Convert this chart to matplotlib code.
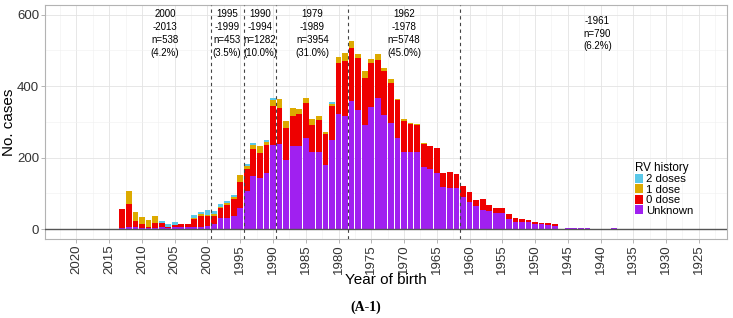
import numpy as np
import matplotlib
matplotlib.use("Agg")
import matplotlib.pyplot as plt
from matplotlib.ticker import MultipleLocator

plt.rcParams["font.family"] = ["Liberation Sans", "DejaVu Sans"]

# Year of birth, from 2013 down to 1935
years = np.arange(2013, 1934, -1)

# Cases per year by RV history (same order as years)
unknown = [3, 5, 5, 3, 2, 3, 5, 4, 7, 7, 7, 6, 6, 9,
           13, 30, 32, 36, 58,
           106, 149, 142, 156, 235,
           237, 193, 232, 232, 254, 216, 216, 179, 250, 321, 315,
           357, 334, 291, 341, 368, 319, 296, 256, 215, 215, 215, 173, 168, 156, 117, 114, 114,
           89, 75, 65, 53, 50, 44, 44, 28, 21, 20, 19, 15, 13, 12, 9,
           1, 2, 2, 2, 2, 1, 1, 0, 2, 1, 0, 1]
dose0 = [52, 64, 18, 12, 4, 14, 11, 2, 5, 8, 7, 21, 30, 27,
         23, 28, 34, 47, 73,
         61, 76, 70, 79, 110,
         103, 90, 85, 90, 98, 75, 89, 86, 93, 145, 154,
         150, 144, 131, 123, 104, 124, 112, 105, 88, 80, 77, 65, 64, 70, 39, 45, 40,
         31, 29, 17, 30, 17, 15, 14, 14, 10, 8, 5, 4, 4, 5, 6,
         0, 1, 1, 2, 2, 0, 0, 0, 0, 0, 0, 0]
dose1 = [0, 37, 25, 19, 18, 20, 0, 0, 0, 0, 0, 5, 6, 4,
         7, 4, 6, 7, 20,
         9, 11, 19, 9, 16,
         23, 19, 22, 13, 14, 18, 11, 7, 7, 15, 23,
         18, 12, 21, 13, 19, 7, 12, 2, 4, 2, 2, 3, 0, 0, 0, 0, 0,
         0, 0, 0, 0, 0, 0, 0, 0, 0, 0, 0, 0, 0, 0, 0,
         0, 0, 0, 0, 0, 0, 0, 0, 0, 0, 0, 0]
dose2 = [0, 0, 0, 0, 0, 0, 7, 9, 7, 0, 0, 6, 6, 12,
         7, 7, 5, 5, 0,
         6, 6, 0, 6, 5,
         0, 0, 0, 0, 0, 0, 0, 0, 6, 0, 0,
         0, 0, 0, 0, 0, 0, 0, 0, 0, 0, 0, 0, 0, 0, 0, 0, 0,
         0, 0, 0, 0, 0, 0, 0, 0, 0, 0, 0, 0, 0, 0, 0,
         0, 0, 0, 0, 0, 0, 0, 0, 0, 0, 0, 0]

# Birth cohort groups: boundaries and labels
group_breaks = [1999.5, 1994.5, 1989.5, 1978.5, 1961.5]
group_x = [2006.5, 1997, 1992, 1984, 1970, 1940.5]
group_labels = ["2000\n-2013\nn=538\n(4.2%)",
                "1995\n-1999\nn=453\n(3.5%)",
                "1990\n-1994\nn=1282\n(10.0%)",
                "1979\n-1989\nn=3954\n(31.0%)",
                "1962\n-1978\nn=5748\n(45.0%)",
                "-1961\nn=790\n(6.2%)"]

series = [("Unknown", unknown, "#A020F0"),
          ("0 dose", dose0, "#EE0000"),
          ("1 dose", dose1, "#DDAA00"),
          ("2 doses", dose2, "#5BC8E8")]

fig = plt.figure(figsize=(7.33, 3.18), dpi=100)
ax = fig.add_axes([0.0614, 0.2484, 0.9304, 0.7359])

bottom = np.zeros(len(years))
handles = []
for name, vals, col in series:
    vals = np.array(vals, dtype=float)
    b = ax.bar(years, vals, bottom=bottom, width=0.88, color=col,
               edgecolor="none", label=name, zorder=3)
    handles.append(b)
    bottom += vals

ax.axhline(0, color="#555555", lw=1.0, zorder=4)
for xb in group_breaks:
    ax.axvline(xb, color="#444444", lw=0.8, ls=(0, (3, 3)), zorder=5)

for xg, txt in zip(group_x, group_labels):
    ax.text(xg, 547, txt, ha="center", va="center", fontsize=7,
            linespacing=1.35, zorder=6)

ax.set_xlim(2024.8, 1920.7)
ax.set_ylim(-28, 627)
ax.set_xticks(np.arange(2020, 1924, -5))
ax.tick_params(axis="x", rotation=90)
ax.xaxis.set_minor_locator(MultipleLocator(2.5))
ax.set_yticks([0, 200, 400, 600])
ax.yaxis.set_minor_locator(MultipleLocator(100))
ax.tick_params(labelsize=9.5, colors="#333333", length=3, width=0.6, pad=1.2)
ax.tick_params(axis="both", which="both", color="#aaaaaa")
ax.tick_params(which="minor", length=0)

ax.grid(which="major", color="#e3e3e3", lw=0.6, zorder=0)
ax.grid(which="minor", color="#f0f0f0", lw=0.4, zorder=0)
for s in ax.spines.values():
    s.set_color("#b3b3b3")
    s.set_linewidth(0.8)

ax.set_ylabel("No. cases", fontsize=11, labelpad=1)
ax.set_xlabel("Year of birth", fontsize=11, labelpad=-1)

leg = ax.legend(handles[::-1], [s[0] for s in series][::-1], title="RV history",
                loc="lower left", bbox_to_anchor=(0.855, 0.07), frameon=False,
                fontsize=8.2, title_fontsize=8.4, handlelength=0.7,
                handleheight=0.85, handletextpad=0.3, labelspacing=0.0,
                borderpad=0.1)
leg._legend_box.align = "left"

fig.text(0.499, 0.033, "(A-1)", ha="center", va="center", fontsize=10,
         fontweight="bold", family=["Liberation Serif", "DejaVu Serif"])

fig.savefig("out.png", dpi=100)
